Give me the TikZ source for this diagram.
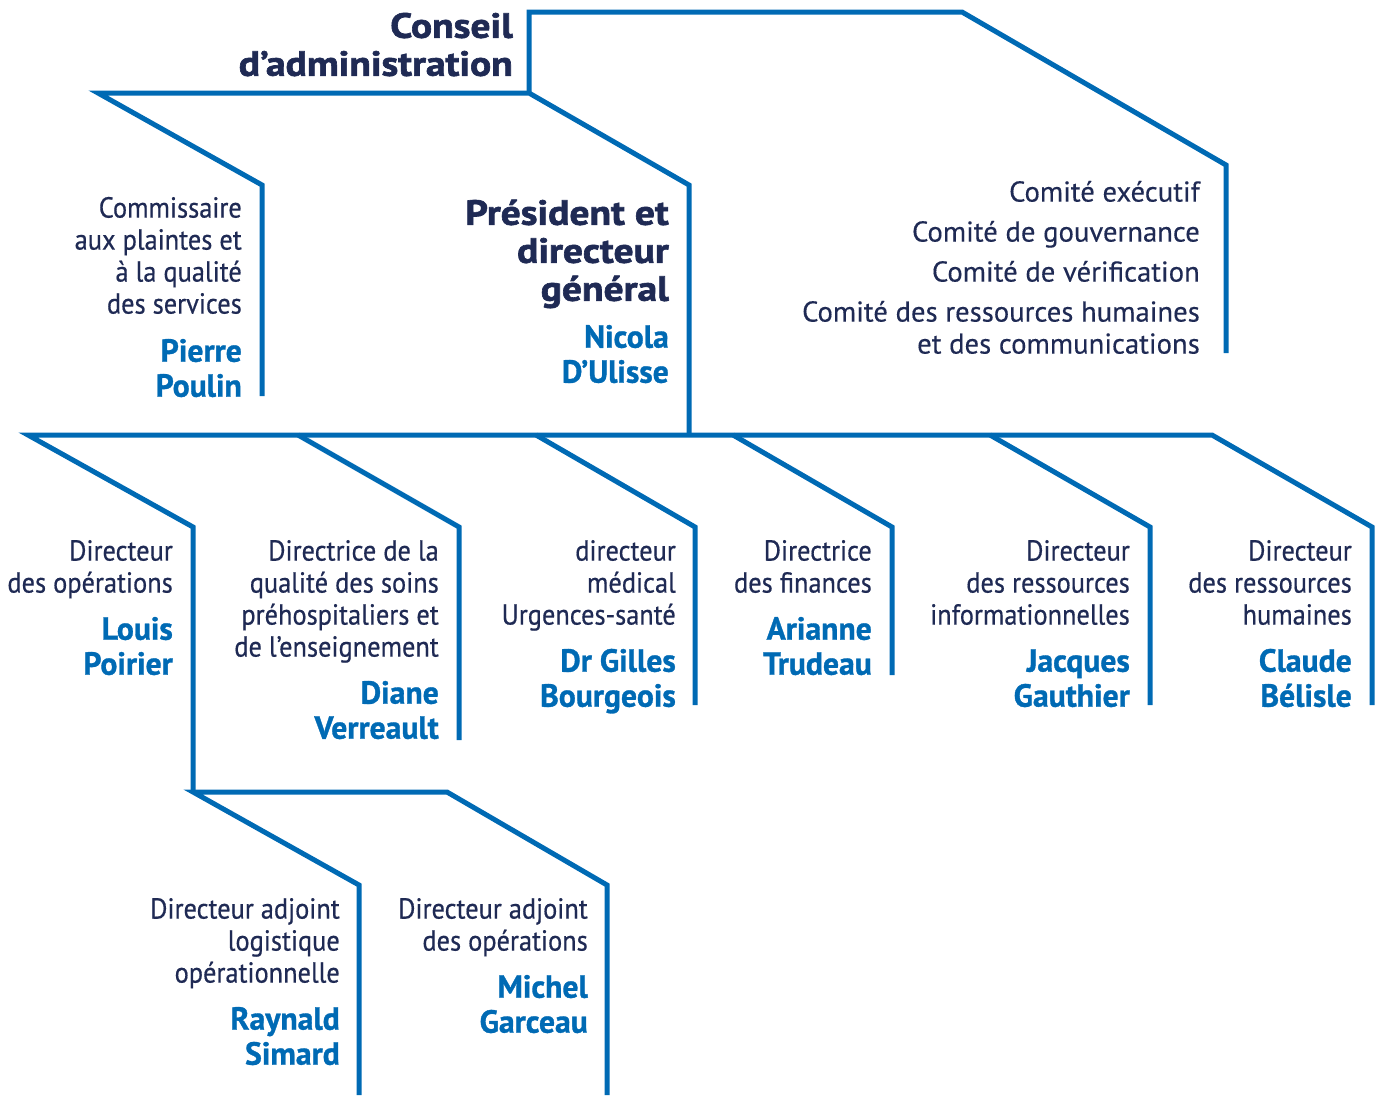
\documentclass[tikz,border=0pt]{standalone}
\usepackage{fontspec}
\setmainfont{PT Sans}
\newfontfamily\condfont[FakeStretch=0.91,FakeBold=0.5]{PT Sans}
\newfontfamily\namefont[FakeStretch=0.99,FakeBold=1]{PT Sans}
\newfontfamily\titlefont[FakeStretch=1.13,FakeBold=1.8]{PT Sans}
\newfontfamily\comfont[FakeBold=0.3]{PT Sans}
\definecolor{navy}{RGB}{31,42,84}
\definecolor{orgblue}{RGB}{0,106,180}
\tikzset{
  wire/.style={draw=orgblue, line width=5pt, line join=miter},
  role/.style={anchor=north east, inner sep=0pt, align=right, text=navy, font=\condfont\fontsize{29}{32}\selectfont},
  who/.style={anchor=north east, inner sep=0pt, align=right, text=orgblue, font=\namefont\bfseries\fontsize{32}{35}\selectfont},
  headtitle/.style={anchor=north east, inner sep=0pt, align=right, text=navy, font=\titlefont\bfseries\fontsize{35}{38}\selectfont},
  committee/.style={anchor=north east, inner sep=0pt, align=right, text=navy, font=\comfont\fontsize{28.7}{32}\selectfont}
}
\begin{document}
\begin{tikzpicture}[x=1pt,y=-1pt]
\useasboundingbox (0,0) rectangle (1376,1095);
% coordinates
\coordinate (cb) at (529,93);
\coordinate (ct) at (529,12);
\coordinate (cr) at (962,12);
\coordinate (cd) at (1226,165);
\coordinate (ce) at (1226,353);
\coordinate (pl) at (98,93);
\coordinate (pd) at (262,185);
\coordinate (pe) at (262,396);
\coordinate (gd) at (689,185);
\coordinate (ge) at (689,435);
% level 2
\coordinate (h0) at (28,435);
\coordinate (h1) at (298,435);
\coordinate (h2) at (536,435);
\coordinate (h3) at (733,435);
\coordinate (h4) at (990,435);
\coordinate (h5) at (1212,435);
\coordinate (d0) at (193,527); \coordinate (e0) at (193,792);
\coordinate (d1) at (459,527); \coordinate (e1) at (459,740);
\coordinate (d2) at (695,527); \coordinate (e2) at (695,705);
\coordinate (d3) at (892,527); \coordinate (e3) at (892,675);
\coordinate (d4) at (1150,527); \coordinate (e4) at (1150,705);
\coordinate (d5) at (1372,527); \coordinate (e5) at (1372,705);
% level 3
\coordinate (s1) at (447,792);
\coordinate (sd0) at (359,885); \coordinate (se0) at (359,1095);
\coordinate (sd1) at (607,885); \coordinate (se1) at (607,1095);

% wires
\draw[wire] (cb) -- (ct) -- (cr) -- (cd) -- (ce);
\draw[wire] (pe) -- (pd) -- (pl) -- (cb) -- (gd) -- (ge);
\draw[wire] (e0) -- (d0) -- (h0) -- (h5) -- (d5) -- (e5);
\draw[wire] (h1) -- (d1) -- (e1);
\draw[wire] (h2) -- (d2) -- (e2);
\draw[wire] (h3) -- (d3) -- (e3);
\draw[wire] (h4) -- (d4) -- (e4);
\draw[wire] (se0) -- (sd0) -- (e0) -- (s1) -- (sd1) -- (se1);

% texts
\node[headtitle] (conseil) at (513,11) {\strut Conseil\\d’administration};
\node[role] (commR) at (242,195) {\strut Commissaire\\aux plaintes et\\à la qualité\\des services};
\node[who] (commN) at (242,337) {\strut Pierre\\Poulin};
\node[headtitle] (pdgR) at (669,198) {\strut Président et\\directeur\\général};
\node[who] (pdgN) at (669,323) {\strut Nicola\\D’Ulisse};
\node[committee] (comites) at (1200,179) {\strut Comité exécutif\\[8pt]Comité de gouvernance\\[8pt]Comité de vérification\\[8pt]Comité des ressources humaines\\et des communications};

\node[role] (opR) at (173,538) {\strut Directeur\\des opérations};
\node[who] (opN) at (173,615) {\strut Louis\\Poirier};
\node[role] (qualR) at (439,538) {\strut Directrice de la\\qualité des soins\\préhospitaliers et\\de l’enseignement};
\node[who] (qualN) at (439,679) {\strut Diane\\Verreault};
\node[role] (medR) at (676,538) {\strut directeur\\médical\\Urgences-santé};
\node[who] (medN) at (676,647) {\strut Dr Gilles\\Bourgeois};
\node[role] (finR) at (872,538) {\strut Directrice\\des finances};
\node[who] (finN) at (872,615) {\strut Arianne\\Trudeau};
\node[role] (infR) at (1130,538) {\strut Directeur\\des ressources\\informationnelles};
\node[who] (infN) at (1130,647) {\strut Jacques\\Gauthier};
\node[role] (rhR) at (1352,538) {\strut Directeur\\des ressources\\humaines};
\node[who] (rhN) at (1352,647) {\strut Claude\\Bélisle};

\node[role] (logR) at (340,896) {\strut Directeur adjoint\\logistique\\opérationnelle};
\node[who] (logN) at (340,1005) {\strut Raynald\\Simard};
\node[role] (adjR) at (588,896) {\strut Directeur adjoint\\des opérations};
\node[who] (adjN) at (588,973) {\strut Michel\\Garceau};
\end{tikzpicture}
\end{document}
